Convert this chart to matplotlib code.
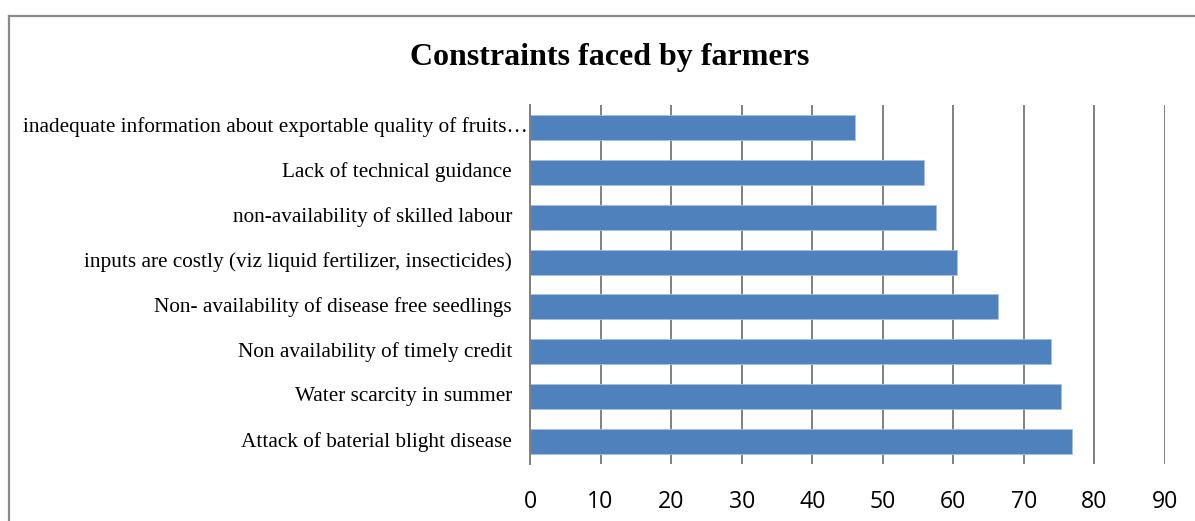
import matplotlib
matplotlib.use("Agg")
import matplotlib.pyplot as plt
from matplotlib.lines import Line2D

categories = [
    "Attack of baterial blight disease",
    "Water scarcity in summer",
    "Non availability of timely credit",
    "Non- availability of disease free seedlings",
    "inputs are costly (viz liquid fertilizer, insecticides)",
    "non-availability of skilled labour",
    "Lack of technical guidance",
    "inadequate information about exportable quality of fruits\u2026",
]
values = [76.8, 75.2, 73.9, 66.4, 60.5, 57.6, 55.9, 46.0]
x_ticks = [0, 10, 20, 30, 40, 50, 60, 70, 80, 90]
title = "Constraints faced by farmers"

W, H = 1195, 521
fig = plt.figure(figsize=(W / 100, H / 100), dpi=100)

def fx(px):
    return px / W

def fy(py):
    return 1 - py / H

# outer frame (top and left edges visible)
frame_col = "#8a8a8a"
fig.add_artist(Line2D([fx(9), fx(1200)], [fy(15.5), fy(15.5)], color=frame_col, lw=1.6,
                      transform=fig.transFigure))
fig.add_artist(Line2D([fx(9), fx(9)], [fy(15.5), fy(530)], color=frame_col, lw=1.6,
                      transform=fig.transFigure))

ax = fig.add_axes([fx(530), fy(464), fx(1165) - fx(530), fy(105) - fy(464)])

ypos = list(range(len(categories)))
ax.barh(ypos, values, height=0.556, color="#4F81BD", edgecolor="#a9c1e0", linewidth=0.6,
        zorder=3)

ax.set_xlim(0, 90)
ax.set_ylim(-0.5, len(categories) - 0.5)
ax.set_xticks(x_ticks)
ax.set_xticklabels([str(t) for t in x_ticks], fontfamily="Open Sans", fontsize=16.7,
                   color="#000000")
ax.tick_params(axis="x", length=0, pad=18.5)
ax.set_yticks(ypos)
ax.set_yticklabels([])
ax.tick_params(axis="y", length=0)
ax.grid(axis="x", color="#808080", linewidth=1.4, zorder=0)
for s in ["top", "right", "bottom"]:
    ax.spines[s].set_visible(False)
ax.spines["left"].set_color("#808080")
ax.spines["left"].set_linewidth(1.4)
ax.spines["left"].set_zorder(4)

label_tr = ax.get_yaxis_transform()
for i, (y, lab) in enumerate(zip(ypos, categories)):
    if i == len(categories) - 1:
        xoff = -0.004
    else:
        xoff = -(530 - 512) / 635
    ax.text(xoff, y, lab, transform=label_tr, ha="right", va="center",
            fontfamily="Liberation Serif", fontsize=15.3, color="#000000")

fig.text(fx(609.5), fy(65), title, ha="center", va="baseline",
         fontfamily="Liberation Serif", fontweight="bold", fontsize=23, color="#000000")

fig.savefig("out.png", dpi=100, facecolor="white")
